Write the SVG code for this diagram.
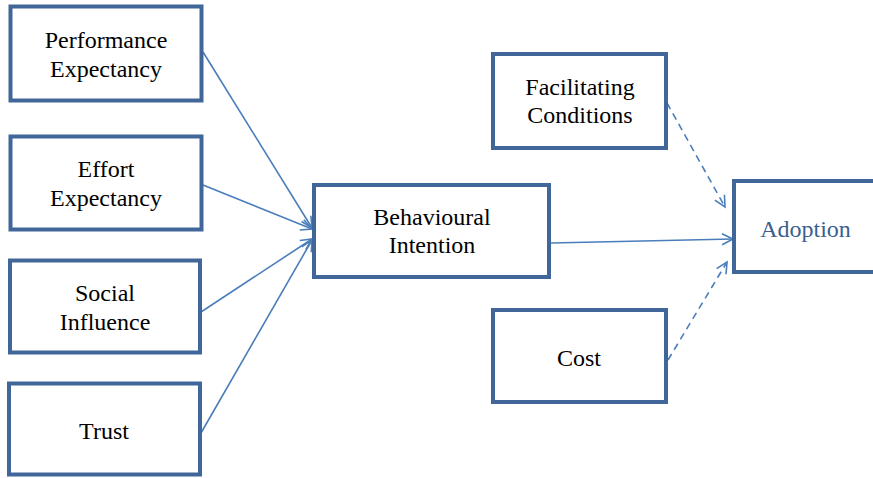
<svg xmlns="http://www.w3.org/2000/svg" width="873" height="478" viewBox="0 0 873 478">
<style>
.box{fill:#fff;stroke:#41679A;stroke-width:4}
.t{font-family:"Liberation Serif","Tinos","DejaVu Serif","Times New Roman",Times,serif;font-size:24px;fill:#000;text-anchor:middle}
.blue{fill:#3A5F8F}
.c{stroke:#4A7EBB;stroke-width:1.6;fill:none}
.d{stroke-dasharray:7,5}
</style>
<defs>
<marker id="arr" markerUnits="userSpaceOnUse" markerWidth="14" markerHeight="14" viewBox="-12 -7 14 14" refX="0" refY="0" orient="auto">
<path d="M-11,-5.5 L0,0 L-11,5.5" fill="none" stroke="#4A7EBB" stroke-width="1.6"/>
</marker>
</defs>
<rect width="873" height="478" fill="#fff"/>
<g id="connectors">
<line class="c" x1="203" y1="52" x2="312" y2="228" marker-end="url(#arr)"/>
<line class="c" x1="203" y1="185" x2="312" y2="229" marker-end="url(#arr)"/>
<line class="c" x1="201" y1="312" x2="312" y2="239" marker-end="url(#arr)"/>
<line class="c" x1="201" y1="433" x2="312" y2="240" marker-end="url(#arr)"/>
<line class="c" x1="551" y1="243" x2="733" y2="239" marker-end="url(#arr)"/>
<line class="c d" x1="667" y1="103" x2="725" y2="207" marker-end="url(#arr)"/>
<line class="c d" x1="668" y1="360" x2="727" y2="262" marker-end="url(#arr)"/>
</g>
<g id="performance"><rect class="box" x="10.5" y="6.5" width="191" height="94"/><text class="t" x="106" y="48">Performance</text><text class="t" x="106" y="77">Expectancy</text></g>
<g id="effort"><rect class="box" x="10.5" y="136.5" width="191" height="93"/><text class="t" x="106" y="177">Effort</text><text class="t" x="106" y="206">Expectancy</text></g>
<g id="social"><rect class="box" x="10" y="260.5" width="190" height="92"/><text class="t" x="105" y="301">Social</text><text class="t" x="105" y="330">Influence</text></g>
<g id="trust"><rect class="box" x="9" y="383.5" width="191" height="91"/><text class="t" x="104" y="439">Trust</text></g>
<g id="behavioural"><rect class="box" x="314" y="185" width="235" height="92"/><text class="t" x="432" y="225">Behavioural</text><text class="t" x="432" y="253">Intention</text></g>
<g id="facilitating"><rect class="box" x="493" y="54" width="173" height="94"/><text class="t" x="580" y="95">Facilitating</text><text class="t" x="580" y="123">Conditions</text></g>
<g id="cost"><rect class="box" x="493" y="310" width="173" height="92"/><text class="t" x="579" y="366">Cost</text></g>
<g id="adoption"><rect class="box" x="734" y="181" width="145" height="91"/><text class="t blue" x="805.5" y="237">Adoption</text></g>
</svg>
